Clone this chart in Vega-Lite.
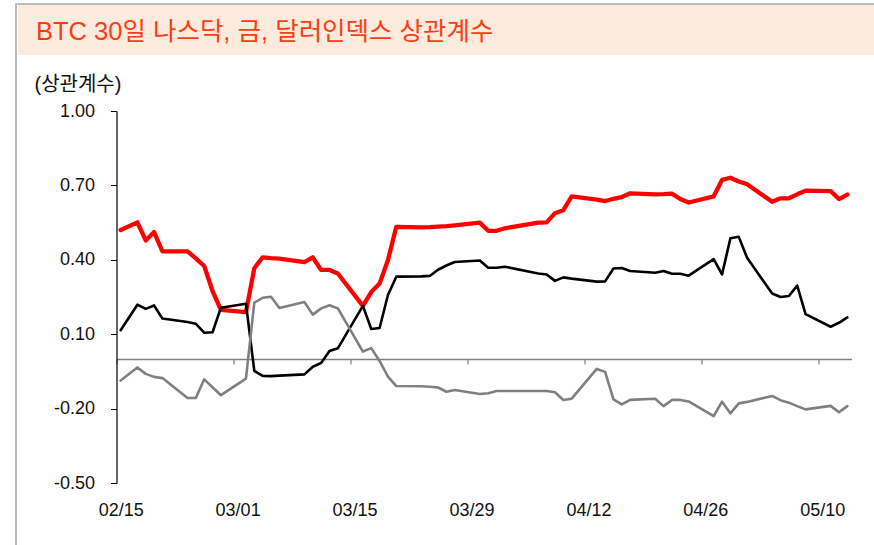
{
  "$schema": "https://vega.github.io/schema/vega-lite/v6.json",
  "padding": {"left": 15, "top": 3, "right": 0, "bottom": 0},
  "background": "white",
  "config": {
    "font": "Liberation Sans, Noto Sans CJK KR",
    "locale": {"number": {"decimal": ".", "thousands": ",", "grouping": [3], "currency": ["", ""], "minus": "-"}}
  },
  "spacing": 0,
  "hconcat": [
    {
      "width": 0.01,
      "height": 541,
      "view": {"stroke": "#A6A6A6", "strokeWidth": 1.5, "fill": null},
      "data": {"values": [{}]},
      "mark": {"type": "point", "opacity": 0, "size": 0}
    },
    {
      "spacing": 0,
      "vconcat": [
        {
          "width": 859,
          "height": 0.01,
          "view": {"stroke": "#A6A6A6", "strokeWidth": 1.5, "fill": null},
          "data": {"values": [{}]},
          "mark": {"type": "point", "opacity": 0, "size": 0}
        },
        {
          "spacing": 19,
          "vconcat": [
            {
              "width": 859,
              "height": 50,
              "view": {"fill": "#FDEBDD", "stroke": null},
              "data": {"values": [{"t": "BTC 30일 나스닥, 금, 달러인덱스 상관계수"}]},
              "mark": {
                "type": "text",
                "align": "left",
                "baseline": "middle",
                "dx": 18,
                "dy": 2,
                "fontSize": 25.5,
                "fontWeight": "normal",
                "color": "#FF3C14",
                "font": "Liberation Sans, Noto Sans CJK KR"
              },
              "encoding": {
                "text": {"field": "t", "type": "nominal"},
                "x": {"datum": 0, "type": "quantitative", "scale": {"domain": [0, 1]}, "axis": null},
                "y": {"datum": 0.5, "type": "quantitative", "scale": {"domain": [0, 1]}, "axis": null}
              }
            },
            {
              "spacing": 14.5,
              "hconcat": [
                {
                  "width": 1,
                  "height": 1,
                  "view": {"stroke": null},
                  "data": {"values": [{}]},
                  "mark": {"type": "point", "opacity": 0, "size": 0}
                },
                {
                  "width": 735,
                  "height": 372,
                  "view": {"stroke": null},
                  "data": {
                    "values": [
                      {"date": "2021-02-15T00:00:00", "nasdaq": 0.520, "gold": 0.116, "dxy": -0.087},
                      {"date": "2021-02-17T00:00:00", "nasdaq": 0.551, "gold": 0.219, "dxy": -0.034},
                      {"date": "2021-02-18T00:00:00", "nasdaq": 0.478, "gold": 0.202, "dxy": -0.060},
                      {"date": "2021-02-19T00:00:00", "nasdaq": 0.512, "gold": 0.216, "dxy": -0.072},
                      {"date": "2021-02-20T00:00:00", "nasdaq": 0.434, "gold": 0.163, "dxy": -0.077},
                      {"date": "2021-02-23T00:00:00", "nasdaq": 0.434, "gold": 0.149, "dxy": -0.157},
                      {"date": "2021-02-24T00:00:00", "nasdaq": 0.406, "gold": 0.142, "dxy": -0.157},
                      {"date": "2021-02-25T00:00:00", "nasdaq": 0.375, "gold": 0.106, "dxy": -0.082},
                      {"date": "2021-02-26T00:00:00", "nasdaq": 0.274, "gold": 0.108, "dxy": -0.114},
                      {"date": "2021-02-27T00:00:00", "nasdaq": 0.198, "gold": 0.207, "dxy": -0.146},
                      {"date": "2021-03-02T00:00:00", "nasdaq": 0.189, "gold": 0.223, "dxy": -0.079},
                      {"date": "2021-03-03T00:00:00", "nasdaq": 0.366, "gold": -0.048, "dxy": 0.227},
                      {"date": "2021-03-04T00:00:00", "nasdaq": 0.410, "gold": -0.068, "dxy": 0.247},
                      {"date": "2021-03-05T00:00:00", "nasdaq": 0.407, "gold": -0.069, "dxy": 0.251},
                      {"date": "2021-03-06T00:00:00", "nasdaq": 0.405, "gold": -0.067, "dxy": 0.206},
                      {"date": "2021-03-09T00:00:00", "nasdaq": 0.391, "gold": -0.062, "dxy": 0.230},
                      {"date": "2021-03-10T00:00:00", "nasdaq": 0.410, "gold": -0.031, "dxy": 0.179},
                      {"date": "2021-03-11T00:00:00", "nasdaq": 0.359, "gold": -0.016, "dxy": 0.204},
                      {"date": "2021-03-12T00:00:00", "nasdaq": 0.359, "gold": 0.032, "dxy": 0.217},
                      {"date": "2021-03-13T00:00:00", "nasdaq": 0.345, "gold": 0.043, "dxy": 0.204},
                      {"date": "2021-03-16T00:00:00", "nasdaq": 0.214, "gold": 0.214, "dxy": 0.030},
                      {"date": "2021-03-17T00:00:00", "nasdaq": 0.270, "gold": 0.121, "dxy": 0.044},
                      {"date": "2021-03-18T00:00:00", "nasdaq": 0.304, "gold": 0.125, "dxy": -0.008},
                      {"date": "2021-03-19T00:00:00", "nasdaq": 0.399, "gold": 0.258, "dxy": -0.071},
                      {"date": "2021-03-20T00:00:00", "nasdaq": 0.533, "gold": 0.332, "dxy": -0.109},
                      {"date": "2021-03-23T00:00:00", "nasdaq": 0.531, "gold": 0.333, "dxy": -0.110},
                      {"date": "2021-03-24T00:00:00", "nasdaq": 0.532, "gold": 0.335, "dxy": -0.112},
                      {"date": "2021-03-25T00:00:00", "nasdaq": 0.534, "gold": 0.360, "dxy": -0.115},
                      {"date": "2021-03-26T00:00:00", "nasdaq": 0.536, "gold": 0.377, "dxy": -0.132},
                      {"date": "2021-03-27T00:00:00", "nasdaq": 0.539, "gold": 0.391, "dxy": -0.125},
                      {"date": "2021-03-30T00:00:00", "nasdaq": 0.550, "gold": 0.397, "dxy": -0.141},
                      {"date": "2021-03-31T00:00:00", "nasdaq": 0.517, "gold": 0.368, "dxy": -0.138},
                      {"date": "2021-04-01T00:00:00", "nasdaq": 0.517, "gold": 0.368, "dxy": -0.129},
                      {"date": "2021-04-02T00:00:00", "nasdaq": 0.527, "gold": 0.372, "dxy": -0.129},
                      {"date": "2021-04-06T00:00:00", "nasdaq": 0.550, "gold": 0.345, "dxy": -0.129},
                      {"date": "2021-04-07T00:00:00", "nasdaq": 0.551, "gold": 0.341, "dxy": -0.129},
                      {"date": "2021-04-08T00:00:00", "nasdaq": 0.588, "gold": 0.315, "dxy": -0.134},
                      {"date": "2021-04-09T00:00:00", "nasdaq": 0.600, "gold": 0.329, "dxy": -0.165},
                      {"date": "2021-04-10T00:00:00", "nasdaq": 0.656, "gold": 0.324, "dxy": -0.160},
                      {"date": "2021-04-13T00:00:00", "nasdaq": 0.643, "gold": 0.312, "dxy": -0.040},
                      {"date": "2021-04-14T00:00:00", "nasdaq": 0.637, "gold": 0.313, "dxy": -0.052},
                      {"date": "2021-04-15T00:00:00", "nasdaq": 0.646, "gold": 0.365, "dxy": -0.163},
                      {"date": "2021-04-16T00:00:00", "nasdaq": 0.653, "gold": 0.367, "dxy": -0.183},
                      {"date": "2021-04-17T00:00:00", "nasdaq": 0.668, "gold": 0.355, "dxy": -0.165},
                      {"date": "2021-04-20T00:00:00", "nasdaq": 0.664, "gold": 0.348, "dxy": -0.160},
                      {"date": "2021-04-21T00:00:00", "nasdaq": 0.665, "gold": 0.355, "dxy": -0.190},
                      {"date": "2021-04-22T00:00:00", "nasdaq": 0.667, "gold": 0.344, "dxy": -0.165},
                      {"date": "2021-04-23T00:00:00", "nasdaq": 0.645, "gold": 0.344, "dxy": -0.165},
                      {"date": "2021-04-24T00:00:00", "nasdaq": 0.631, "gold": 0.336, "dxy": -0.171},
                      {"date": "2021-04-27T00:00:00", "nasdaq": 0.656, "gold": 0.403, "dxy": -0.230},
                      {"date": "2021-04-28T00:00:00", "nasdaq": 0.722, "gold": 0.341, "dxy": -0.172},
                      {"date": "2021-04-29T00:00:00", "nasdaq": 0.731, "gold": 0.487, "dxy": -0.219},
                      {"date": "2021-04-30T00:00:00", "nasdaq": 0.716, "gold": 0.493, "dxy": -0.179},
                      {"date": "2021-05-01T00:00:00", "nasdaq": 0.705, "gold": 0.408, "dxy": -0.173},
                      {"date": "2021-05-04T00:00:00", "nasdaq": 0.634, "gold": 0.264, "dxy": -0.149},
                      {"date": "2021-05-05T00:00:00", "nasdaq": 0.648, "gold": 0.250, "dxy": -0.166},
                      {"date": "2021-05-06T00:00:00", "nasdaq": 0.648, "gold": 0.254, "dxy": -0.176},
                      {"date": "2021-05-07T00:00:00", "nasdaq": 0.664, "gold": 0.296, "dxy": -0.190},
                      {"date": "2021-05-08T00:00:00", "nasdaq": 0.679, "gold": 0.181, "dxy": -0.203},
                      {"date": "2021-05-11T00:00:00", "nasdaq": 0.677, "gold": 0.130, "dxy": -0.189},
                      {"date": "2021-05-12T00:00:00", "nasdaq": 0.645, "gold": 0.146, "dxy": -0.215},
                      {"date": "2021-05-13T00:00:00", "nasdaq": 0.663, "gold": 0.168, "dxy": -0.190}
                    ]
                  },
                  "transform": [{"fold": ["nasdaq", "gold", "dxy"], "as": ["series", "value"]}],
                  "encoding": {
                    "x": {
                      "field": "date",
                      "type": "temporal",
                      "scale": {
                        "domain": [
                          {"year": 2021, "month": 2, "date": 14, "hours": 12},
                          {"year": 2021, "month": 5, "date": 13, "hours": 12}
                        ]
                      },
                      "axis": {
                        "title": null,
                        "values": [
                          {"year": 2021, "month": 2, "date": 15},
                          {"year": 2021, "month": 3, "date": 1},
                          {"year": 2021, "month": 3, "date": 15},
                          {"year": 2021, "month": 3, "date": 29},
                          {"year": 2021, "month": 4, "date": 12},
                          {"year": 2021, "month": 4, "date": 26},
                          {"year": 2021, "month": 5, "date": 10}
                        ],
                        "format": "%m/%d",
                        "offset": -124,
                        "tickOffset": -4.17,
                        "labelOffset": 4.17,
                        "tickSize": 5,
                        "tickColor": "#808080",
                        "tickWidth": 1.2,
                        "domainColor": "#808080",
                        "domainWidth": 1.4,
                        "labelPadding": 146,
                        "labelBaseline": "middle",
                        "labelFontSize": 18,
                        "labelColor": "#111111",
                        "labelFlush": false,
                        "labelOverlap": false,
                        "grid": false
                      }
                    },
                    "y": {
                      "field": "value",
                      "type": "quantitative",
                      "scale": {"domain": [-0.5, 1.0], "nice": false, "zero": false},
                      "axis": {
                        "title": "(상관계수)",
                        "titleAngle": 0,
                        "titleAlign": "left",
                        "titleBaseline": "middle",
                        "titleX": -82.5,
                        "titleY": -27,
                        "titleFontSize": 20,
                        "titleFontWeight": "normal",
                        "titleColor": "#111111",
                        "values": [-0.5, -0.2, 0.1, 0.4, 0.7, 1.0],
                        "format": ".2f",
                        "labelFontSize": 18,
                        "labelColor": "#111111",
                        "labelPadding": 16,
                        "labelOverlap": false,
                        "labelFlush": false,
                        "tickSize": 6,
                        "tickColor": "#000000",
                        "domainColor": "#000000",
                        "domainWidth": 1.2,
                        "grid": false
                      }
                    }
                  },
                  "layer": [
                    {
                      "transform": [{"filter": "datum.series === 'nasdaq'"}],
                      "mark": {"type": "line", "color": "#FF0000", "strokeWidth": 4.3, "strokeJoin": "round", "strokeCap": "round"}
                    },
                    {
                      "transform": [{"filter": "datum.series === 'gold'"}],
                      "mark": {"type": "line", "color": "#000000", "strokeWidth": 2.6, "strokeJoin": "round", "strokeCap": "round"}
                    },
                    {
                      "transform": [{"filter": "datum.series === 'dxy'"}],
                      "mark": {"type": "line", "color": "#808080", "strokeWidth": 2.6, "strokeJoin": "round", "strokeCap": "round"}
                    }
                  ]
                }
              ]
            }
          ]
        }
      ]
    }
  ]
}
